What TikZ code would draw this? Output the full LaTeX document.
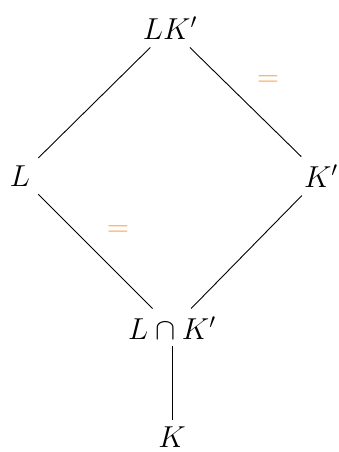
\documentclass[tikz,border=0pt]{standalone}
\usepackage{amsmath}
\usepackage{graphicx}
\definecolor{eqorange}{RGB}{255,160,70}
\newcommand{\diagmath}[1]{\scalebox{1.46}{\huge$#1$}}
\begin{document}
\begin{tikzpicture}[x=1pt,y=-1pt,
  lbl/.style={inner sep=3pt},
  eqmark/.style={text=eqorange,inner sep=0pt},
  conn/.style={line width=0.9pt,shorten <=7pt,shorten >=7pt},
  vconn/.style={line width=0.9pt,shorten <=3pt,shorten >=5pt}]
\useasboundingbox (0,0) rectangle (338,452);
\node[lbl] (LK) at (170,28) {\diagmath{LK'}};
\node[lbl] (L) at (20,176) {\diagmath{L}};
\node[lbl] (Kp) at (321,176) {\diagmath{K'}};
\node[lbl] (LnK) at (172,328) {\diagmath{L\cap K'}};
\node[inner sep=1pt] (K) at (172,437) {\diagmath{K}};
\draw[conn] (LK) -- (L);
\draw[conn] (LK) -- (Kp);
\draw[conn] (L) -- (LnK);
\draw[conn] (Kp) -- (LnK);
\draw[vconn] (LnK) -- (K);
\node[eqmark] (e1) at (268,81) {\diagmath{=}};
\node[eqmark] (e2) at (118,231) {\diagmath{=}};
\end{tikzpicture}
\end{document}
